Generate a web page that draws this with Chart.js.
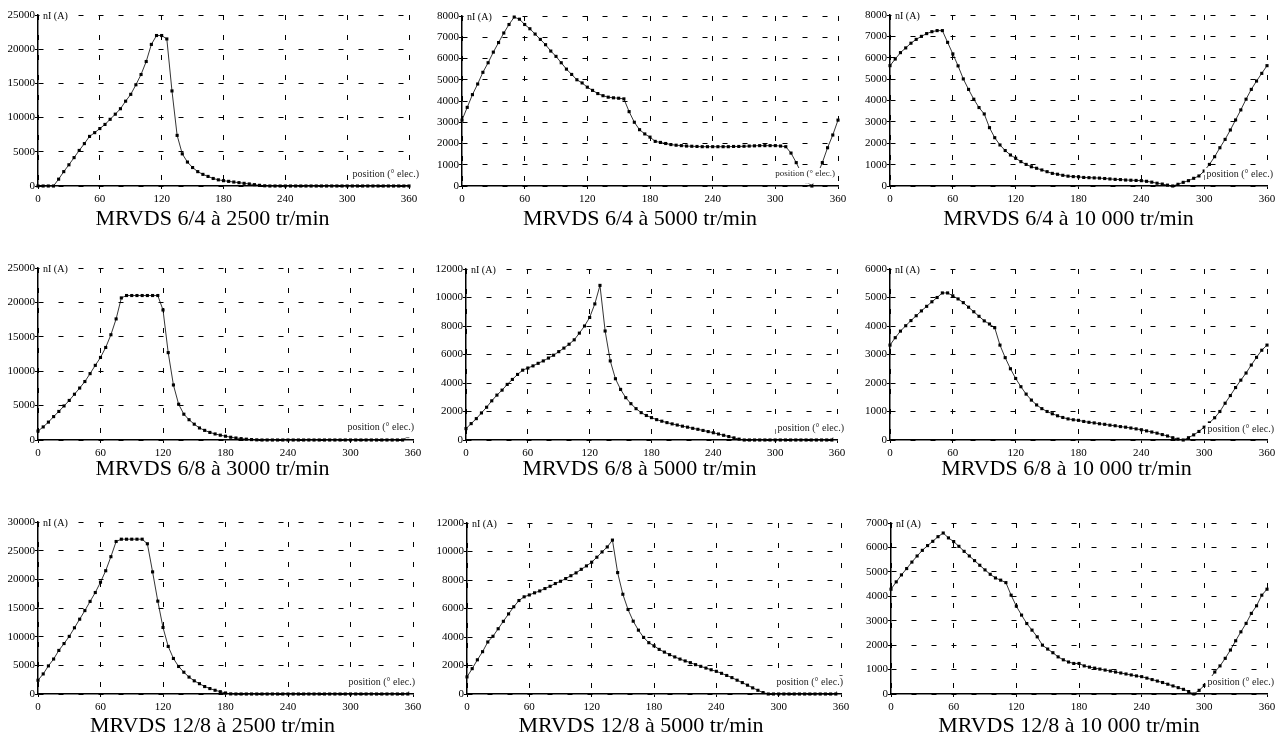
<!DOCTYPE html>
<html>
<head>
<meta charset="utf-8">
<script src="https://cdn.jsdelivr.net/npm/chart.js@4"></script>
<style>
  html, body { margin: 0; padding: 0; background: #fff; overflow: hidden; }
  body { width: 1281px; height: 738px; position: relative; }
  canvas { position: absolute; }
</style>
</head>
<body>
<script>
// electrical position, degrees (one point every 5°)
const angles = [0, 5, 10, 15, 20, 25, 30, 35, 40, 45, 50, 55, 60, 65, 70, 75, 80, 85, 90, 95,
  100, 105, 110, 115, 120, 125, 130, 135, 140, 145, 150, 155, 160, 165, 170, 175, 180, 185, 190, 195,
  200, 205, 210, 215, 220, 225, 230, 235, 240, 245, 250, 255, 260, 265, 270, 275, 280, 285, 290, 295,
  300, 305, 310, 315, 320, 325, 330, 335, 340, 345, 350, 355, 360];

const xTicks = [0, 60, 120, 180, 240, 300, 360];

// nI (A) for each machine / speed
const ni64_2500 = [0, 0, 0, 0, 1000, 2100, 3100, 4150, 5200, 6200, 7250, 7800, 8400, 9000, 9750, 10500, 11300, 12400, 13400, 14800,
  16300, 18200, 20700, 22000, 22000, 21500, 13900, 7400, 4700, 3500, 2700, 2100, 1700, 1400, 1100, 900, 780, 680, 580, 490,
  390, 300, 200, 100, 30, 0, 0, 0, 0, 0, 0, 0, 0, 0, 0, 0, 0, 0, 0, 0,
  0, 0, 0, 0, 0, 0, 0, 0, 0, 0, 0, 0, 0];

const ni64_5000 = [3100, 3700, 4300, 4800, 5350, 5800, 6300, 6750, 7200, 7600, 7950, 7850, 7600, 7400, 7150, 6900, 6650, 6350, 6100, 5800,
  5500, 5250, 5000, 4850, 4650, 4500, 4350, 4250, 4180, 4150, 4130, 4100, 3500, 3000, 2650, 2450, 2300, 2100, 2050, 2000,
  1950, 1920, 1900, 1880, 1870, 1860, 1850, 1850, 1850, 1850, 1850, 1850, 1860, 1860, 1870, 1880, 1890, 1900, 1900, 1900,
  1900, 1880, 1850, 1550, 1100, 600, 200, 0, 500, 1100, 1800, 2400, 3100];

const ni64_10000 = [5630, 5940, 6240, 6460, 6680, 6860, 7000, 7130, 7220, 7270, 7270, 6720, 6180, 5620, 5010, 4520, 4060, 3670, 3370, 2730,
  2260, 1920, 1660, 1450, 1300, 1140, 1010, 900, 830, 750, 670, 590, 550, 500, 460, 440, 430, 400, 390, 380,
  370, 350, 330, 310, 300, 280, 270, 260, 250, 220, 180, 130, 90, 40, 0, 80, 170, 250, 360, 470,
  700, 1010, 1370, 1790, 2180, 2620, 3090, 3560, 4060, 4520, 4910, 5270, 5630];

const ni68_3000 = [1300, 1900, 2600, 3400, 4150, 4950, 5750, 6650, 7550, 8500, 9650, 10850, 12000, 13450, 15300, 17600, 20650, 21000, 21000, 21000,
  21000, 21000, 21000, 21000, 18900, 12700, 8000, 5200, 3750, 2950, 2300, 1750, 1400, 1100, 880, 700, 550, 400, 290, 200,
  120, 60, 20, 0, 0, 0, 0, 0, 0, 0, 0, 0, 0, 0, 0, 0, 0, 0, 0, 0,
  0, 0, 0, 0, 0, 0, 0, 0, 0, 0, 0, 500, 1300];

const ni68_5000 = [800, 1150, 1500, 1900, 2300, 2750, 3150, 3500, 3900, 4250, 4600, 4900, 5050, 5200, 5380, 5550, 5750, 5950, 6200, 6450,
  6720, 7030, 7500, 8000, 8600, 9550, 10850, 7650, 5550, 4300, 3550, 2970, 2550, 2200, 1920, 1720, 1570, 1430, 1320, 1220,
  1130, 1050, 970, 900, 820, 750, 670, 590, 510, 420, 330, 240, 150, 60, 0, 0, 0, 0, 0, 0,
  0, 0, 0, 0, 0, 0, 0, 0, 0, 0, 0, 0, 800];

const ni68_10000 = [3330, 3590, 3820, 4010, 4190, 4360, 4530, 4690, 4850, 5000, 5160, 5160, 5060, 4950, 4820, 4660, 4500, 4340, 4180, 4070,
  3940, 3330, 2890, 2500, 2160, 1870, 1610, 1400, 1230, 1100, 1000, 920, 850, 790, 740, 710, 690, 650, 620, 600,
  570, 550, 520, 500, 470, 450, 420, 390, 360, 320, 280, 240, 190, 140, 80, 30, 0, 80, 180, 300,
  450, 600, 780, 1000, 1290, 1560, 1840, 2100, 2350, 2630, 2900, 3150, 3330];

const ni128_2500 = [2400, 3500, 4900, 6100, 7600, 8800, 10050, 11550, 13050, 14550, 16150, 17700, 19500, 21500, 23950, 26600, 27000, 27000, 27000, 27000,
  27000, 26200, 21300, 16200, 11600, 8300, 6200, 4800, 3800, 2950, 2300, 1800, 1300, 950, 650, 400, 180, 20, 0, 0,
  0, 0, 0, 0, 0, 0, 0, 0, 0, 0, 0, 0, 0, 0, 0, 0, 0, 0, 0, 0,
  0, 0, 0, 0, 0, 0, 0, 0, 0, 0, 0, 0, 2400];

const ni128_5000 = [1200, 1780, 2400, 2970, 3650, 4050, 4580, 5100, 5620, 6120, 6560, 6820, 6950, 7100, 7230, 7400, 7560, 7750, 7910, 8100,
  8300, 8500, 8750, 8990, 9250, 9600, 9970, 10320, 10800, 8520, 7000, 5930, 5110, 4480, 3970, 3600, 3380, 3130, 2940, 2760,
  2600, 2450, 2320, 2200, 2060, 1940, 1820, 1700, 1590, 1450, 1300, 1150, 970, 800, 620, 430, 260, 100, 0, 0,
  0, 0, 0, 0, 0, 0, 0, 0, 0, 0, 0, 0, 1200];

const ni128_10000 = [4290, 4590, 4875, 5135, 5400, 5650, 5880, 6075, 6250, 6440, 6590, 6390, 6240, 6045, 5840, 5650, 5460, 5270, 5080, 4900,
  4750, 4660, 4560, 4045, 3595, 3230, 2885, 2615, 2340, 2000, 1840, 1690, 1520, 1400, 1310, 1250, 1250, 1150, 1100, 1060,
  1020, 980, 940, 900, 860, 820, 780, 740, 710, 650, 590, 530, 470, 400, 330, 260, 190, 100, 0, 150,
  350, 600, 900, 1150, 1460, 1800, 2180, 2545, 2890, 3300, 3610, 4045, 4290];

const series = [ni64_2500, ni64_5000, ni64_10000, ni68_3000, ni68_5000, ni68_10000, ni128_2500, ni128_5000, ni128_10000];

const titles = [
  'MRVDS 6/4 à 2500 tr/min', 'MRVDS 6/4 à 5000 tr/min', 'MRVDS 6/4 à 10 000 tr/min',
  'MRVDS 6/8 à 3000 tr/min', 'MRVDS 6/8 à 5000 tr/min', 'MRVDS 6/8 à 10 000 tr/min',
  'MRVDS 12/8 à 2500 tr/min', 'MRVDS 12/8 à 5000 tr/min', 'MRVDS 12/8 à 10 000 tr/min'
];

// y tick range of each panel
const yMax = [25000, 8000, 8000, 25000, 12000, 6000, 30000, 12000, 7000];
const yStep = [5000, 1000, 1000, 5000, 2000, 1000, 5000, 2000, 1000];

// plot area of each panel on the page: left, right, top, bottom
const boxes = [
  [38, 409, 15, 186], [462, 838, 16, 186], [890, 1267, 15, 186],
  [38, 413, 268, 440], [466, 837, 269, 440], [890, 1267, 269, 440],
  [38, 413, 522, 694], [467, 841, 523, 694], [891, 1267, 523, 694]
];
const titleDx = [-11, -10, -10, -13, -12, -12, -13, -13, -10];
const titleDy = [33, 33, 33, 29, 29, 29, 32, 32, 32];
const posLabelDx = [10, -3, 6, 1, 7, 7, 2, 2, 7];
const posLabelDy = [12, 12, 12, 13, 12, 11, 12, 12, 12];
const posLabelSize = [10, 9, 10, 10, 10, 10, 10, 10, 10];

const SERIF = '"Liberation Serif", "Times New Roman", serif';
const Y_W = 36, X_H = 20, PAD_T = 10, PAD_R = 14, PAD_B = 26;

// "nI (A)", "position (° elec.)" written over the plot on white, and the caption below
const axisLabels = {
  id: 'axisLabels',
  afterDatasetsDraw(chart, args, opts) {
    const ctx = chart.ctx;
    const a = chart.chartArea;
    ctx.save();
    ctx.font = '10px ' + SERIF;
    ctx.textBaseline = 'middle';

    let w = ctx.measureText('nI (A)').width;
    ctx.fillStyle = '#fff';
    ctx.fillRect(a.left + 1.5, a.top - 6, w + 6, 12);
    ctx.fillStyle = '#000';
    ctx.textAlign = 'left';
    ctx.fillText('nI (A)', a.left + 5, a.top + 1);

    // the white box reaches down close to the axis line
    ctx.font = opts.size + 'px ' + SERIF;
    const txt = 'position (° elec.)';
    w = ctx.measureText(txt).width;
    const xr = a.right + opts.dx;
    const yc = a.bottom - opts.dy;
    ctx.fillStyle = '#fff';
    ctx.fillRect(xr - w - 2, yc - 6, w + 3, (a.bottom - 2.5) - (yc - 6));
    ctx.fillStyle = '#222';
    ctx.textAlign = 'right';
    ctx.fillText(txt, xr, yc);

    ctx.font = '22px ' + SERIF;
    ctx.fillStyle = '#000';
    ctx.textAlign = 'center';
    ctx.fillText(opts.title, (a.left + a.right) / 2 + opts.tdx, a.bottom + opts.tdy);
    ctx.restore();
  }
};

series.forEach((values, i) => {
  const [L, R, T, B] = boxes[i];
  const canvas = document.createElement('canvas');
  const w = (R - L) + Y_W + PAD_R;
  const h = PAD_T + (B - T) + X_H + PAD_B;
  canvas.width = w;
  canvas.height = h;
  canvas.style.left = (L - Y_W) + 'px';
  canvas.style.top = (T - PAD_T) + 'px';
  canvas.style.width = w + 'px';
  canvas.style.height = h + 'px';
  document.body.appendChild(canvas);

  new Chart(canvas.getContext('2d'), {
    type: 'line',
    data: {
      datasets: [{
        data: angles.map((a, k) => ({ x: a, y: values[k] })),
        borderColor: '#000',
        borderWidth: 0.8,
        pointStyle: 'rect',
        pointRadius: 2.2,
        pointBorderWidth: 0,
        pointBackgroundColor: '#000',
        tension: 0,
        clip: false
      }]
    },
    options: {
      responsive: false,
      animation: false,
      events: [],
      layout: { padding: { left: 0, top: PAD_T, right: PAD_R, bottom: PAD_B } },
      plugins: {
        legend: { display: false },
        tooltip: { enabled: false },
        title: { display: false },
        axisLabels: {
          dx: posLabelDx[i], dy: posLabelDy[i], size: posLabelSize[i],
          title: titles[i], tdx: titleDx[i], tdy: titleDy[i]
        }
      },
      scales: {
        x: {
          type: 'linear',
          min: 0,
          max: 360,
          afterBuildTicks: s => { s.ticks = xTicks.map(v => ({ value: v })); },
          afterFit: s => { s.height = X_H; },
          ticks: {
            color: '#000',
            font: { family: SERIF, size: 11 },
            padding: 4,
            maxRotation: 0,
            autoSkip: false,
            callback: v => String(v)
          },
          grid: { color: '#000', lineWidth: 1, tickLength: 3, tickColor: '#000', tickWidth: 1 },
          border: { display: true, color: '#000', width: 1.5, dash: [5, 15], dashOffset: 0 }
        },
        y: {
          min: 0,
          max: yMax[i],
          afterFit: s => { s.width = Y_W; },
          ticks: {
            stepSize: yStep[i],
            color: '#000',
            font: { family: SERIF, size: 11 },
            padding: 0,
            callback: v => String(v)
          },
          grid: { color: '#000', lineWidth: 1, tickLength: 3, tickColor: '#000', tickWidth: 1 },
          border: { display: true, color: '#000', width: 1.5, dash: [5, 15], dashOffset: 0 }
        }
      }
    },
    plugins: [axisLabels]
  });
});
</script>
</body>
</html>
